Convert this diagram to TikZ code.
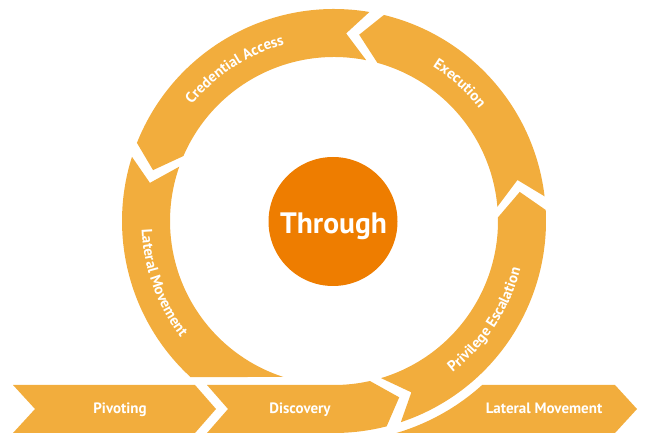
\documentclass[tikz,border=0pt]{standalone}
\usepackage{fontspec}
\setmainfont{PT Sans}[UprightFont={* Bold},BoldFont={* Bold}]
\usetikzlibrary{decorations.text}
\definecolor{ringorange}{HTML}{F2AD3D}
\definecolor{coreorange}{HTML}{EE7D00}
\newcommand\lblfont{\bfseries\fontsize{15}{17}\selectfont}
\def\Ro{212}
\def\Ri{164}
\def\Rm{188}
\def\dO{5.92}
\def\dI{7.64}
% ring segment: #1 notch apex angle (tail), #2 tip angle (head)
\newcommand\ringseg[2]{%
  \fill[seg] ({#1-\dO}:\Ro pt) arc[start angle={#1-\dO}, end angle={#2-\dO}, radius=\Ro pt]
    -- (#2:\Rm pt) -- ({#2-\dI}:\Ri pt)
    arc[start angle={#2-\dI}, end angle={#1-\dI}, radius=\Ri pt]
    -- (#1:\Rm pt) -- cycle;}
\begin{document}
\begin{tikzpicture}[x=1pt,y=1pt,
  seg/.style={fill=ringorange},
  lbl/.style={text=white,font=\lblfont,inner sep=0pt},
  curvelbl/.style={decorate,decoration={text along path,text align=center,
      text color=white,text={|\lblfont|#1}}}]
\useasboundingbox (0,0) rectangle (650,444);
\coordinate (C) at (334,223);
\begin{scope}[shift={(C)}]
  % Privilege Escalation
  \ringseg{-65.7}{8.9}
  % Execution
  \ringseg{12.6}{82.3}
  % Credential Access
  \ringseg{86.3}{164.3}
  % Lateral Movement (left arc), flat cut at the bottom
  \fill[seg] ({168.3-\dO}:\Ro pt) arc[start angle={168.3-\dO}, end angle=227.4, radius=\Ro pt]
    -- (252.0:\Ri pt) arc[start angle=252.0, end angle={168.3-\dI}, radius=\Ri pt]
    -- (168.3:\Rm pt) -- cycle;
  % Discovery (straight band turning into the ring)
  \fill[seg] (-127,-164) -- (-106,-188) -- (-127,-212) -- (0,-212)
    arc[start angle=-90, end angle={-69.7-\dO}, radius=\Ro pt]
    -- (-69.7:\Rm pt) -- ({-69.7-\dI}:\Ri pt)
    arc[start angle={-69.7-\dI}, end angle=-90, radius=\Ri pt] -- cycle;
  % Pivoting
  \fill[seg] (-321,-164) -- (-139,-164) -- (-118,-188) -- (-139,-212) -- (-321,-212) -- (-299,-188) -- cycle;
  % Lateral Movement (bottom right)
  \fill[seg] (281,-164) -- (303,-188) -- (281,-212) -- ({-asin(212/221)}:221pt)
    arc[start angle={-asin(212/221)}, end angle={-asin(164/221)}, radius=221pt] -- cycle;
  % curved labels
  \path[curvelbl={Credential Access}] (163.2:183.5pt) arc[start angle=163.2, end angle=83.2, radius=183.5pt];
  \path[curvelbl={Execution}] (87.6:183.5pt) arc[start angle=87.6, end angle=7.6, radius=183.5pt];
  \path[curvelbl={Lateral Movement}] (159.8:192.5pt) arc[start angle=159.8, end angle=239.8, radius=192.5pt];
  \path[curvelbl={Privilege Escalation}] (-73.2:192.5pt) arc[start angle=-73.2, end angle=6.8, radius=192.5pt];
\end{scope}
\node[circle, fill=coreorange, minimum size=129pt, inner sep=0pt] (core) at (333,222.5) {};
\node[lbl, anchor=base, font=\bfseries\fontsize{29.5}{32}\selectfont] (through) at (333.5,210.7) {Through};
\node[lbl, anchor=base] (pivot) at (120,30) {Pivoting};
\node[lbl, anchor=base] (disc) at (300,30) {Discovery};
\node[lbl, anchor=base] (latb) at (544,30) {Lateral Movement};
\end{tikzpicture}
\end{document}
